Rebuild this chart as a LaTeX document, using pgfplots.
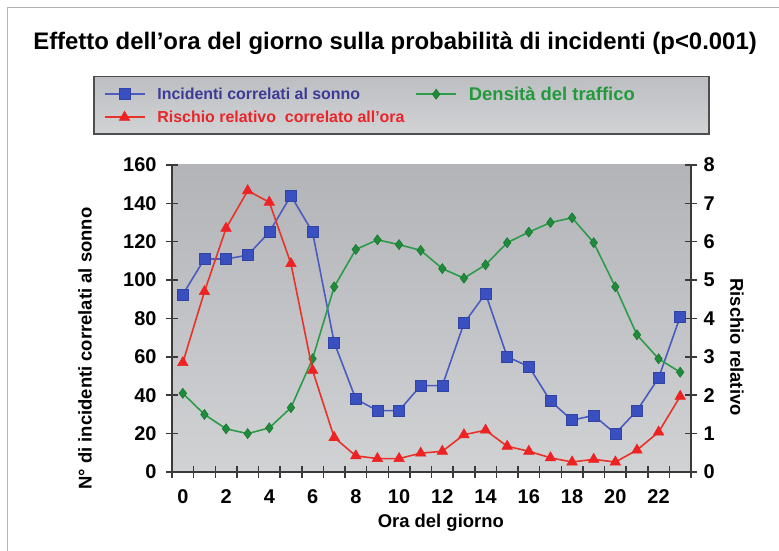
\documentclass[border=0pt]{standalone}
\usepackage{pgfplots}
\pgfplotsset{compat=1.18}
\usepackage{fontspec}
\setmainfont{Liberation Sans}
\definecolor{axisgray}{HTML}{3A3A3A}
\definecolor{bgtop}{HTML}{B2B4B8}
\definecolor{bgbot}{HTML}{D0D2D4}
\definecolor{cblueline}{HTML}{4A5CC0}
\definecolor{cbluemark}{HTML}{3A50C0}
\definecolor{cbluetext}{HTML}{3C3C96}
\definecolor{credline}{HTML}{E8332A}
\definecolor{credmark}{HTML}{EE2222}
\definecolor{credtext}{HTML}{E8262A}
\definecolor{cgreenline}{HTML}{2E9B4A}
\definecolor{cgreenmark}{HTML}{1E8C3A}
\definecolor{cgreentext}{HTML}{229A3C}
\definecolor{legtop}{HTML}{BCBEC2}
\definecolor{legbot}{HTML}{D2D3D5}

\pgfplotstableread{
h blue green
0 92.5 41
1 111 30
2 111 22.5
3 113 20
4 125 23
5 144 33.5
6 125 59
7 67.5 96.5
8 38 116
9 32 121
10 32 118.5
11 45 115.5
12 45 106
13 77.5 101
14 93 108
15 60 119.5
16 55 125
17 37 130
18 27 132.5
19 29.5 119.5
20 20 96.5
21 32 71.5
22 49 59
23 81 52
}\lefttable

\pgfplotstableread{
h red
0 2.85
1 4.70
2 6.35
3 7.33
4 7.03
5 5.43
6 2.65
7 0.90
8 0.42
9 0.35
10 0.35
11 0.49
12 0.54
13 0.97
14 1.09
15 0.67
16 0.54
17 0.37
18 0.26
19 0.33
20 0.26
21 0.57
22 1.04
23 1.97
}\righttable

\pgfplotsset{
  common/.style={
    at={(172bp,79bp)}, anchor=south west,
    scale only axis, width=519bp, height=307bp,
    xmin=-0.5, xmax=23.5,
    axis line style={-, line width=2bp, color=axisgray},
    tick align=center,
    major tick length=12bp, minor tick length=12bp,
    tick style={line width=1.5bp, color=axisgray},
    /pgf/number format/assume math mode=true,
    tick label style={font=\fontsize{20}{20}\selectfont\bfseries, color=black},
    label style={font=\fontsize{18.5}{20}\selectfont\bfseries},
  },
  blueplot/.style={color=cblueline, line width=1.6bp, mark=square*, mark size=5.5bp,
    mark options={fill=cbluemark, draw=cbluemark!85!black, line width=0.6bp}},
  greenplot/.style={color=cgreenline, line width=1.6bp, mark=diamond*, mark size=5bp,
    mark options={fill=cgreenmark, draw=cgreenmark!85!black, line width=0.6bp}},
  redplot/.style={color=credline, line width=1.6bp, mark=triangle*, mark size=6bp,
    mark options={fill=credmark, draw=credmark, line width=0.6bp}},
}

\begin{document}
\begin{tikzpicture}[x=1bp,y=1bp]
\useasboundingbox (0,0) rectangle (779,551);
\draw[color=gray!60, line width=1.2bp] (7.5,0) -- (7.5,543.5) -- (779,543.5);
\begin{axis}[common,
  ymin=0, ymax=160,
  axis x line*=bottom, axis y line*=left,
  axis background/.style={shade, top color=bgtop, bottom color=bgbot},
  xtick={0,2,...,22},
  minor xtick={-0.5,0.5,...,23.5},
  every major x tick/.append style={draw=none},
  ytick={0,20,...,160},
  xticklabel style={yshift=-8bp},
  yticklabel style={xshift=-6bp},
  xlabel={Ora del giorno},
  ylabel={N° di incidenti correlati al sonno},
  xlabel style={at={(0.518,-0.166)}, anchor=center},
  ylabel style={at={(-0.1676,0.402)}, anchor=center},
  title={Effetto dell’ora del giorno sulla probabilità di incidenti (p<0.001)},
  title style={at={(0.4297,1.378)}, anchor=center, font=\fontsize{24}{26}\selectfont\bfseries},
  legend columns=2,
  legend cell align=left,
  legend image code/.code={\draw[mark repeat=2,mark phase=2,#1] plot coordinates {(0bp,0bp) (20bp,0bp) (40bp,0bp)};},
  legend style={at={(-0.1522,1.2899)}, anchor=north west,
    draw=axisgray!90, line width=1.5bp, top color=legtop, bottom color=legbot,
    inner xsep=10bp, inner ysep=8bp,
    font=\fontsize{16}{18}\selectfont\bfseries,
    /tikz/every odd column/.append style={column sep=10bp},
    /tikz/every even column/.append style={column sep=6bp},
    /tikz/row sep=5bp},
]
\addplot[blueplot] table[x=h, y=blue] {\lefttable};
\addplot[greenplot] table[x=h, y=green] {\lefttable};
\addlegendimage{redplot}
\legend{\makebox[250bp][l]{\textcolor{cbluetext}{Incidenti correlati al sonno}},
  \makebox[228bp][l]{\textcolor{cgreentext}{\fontsize{18.5}{20}\selectfont Densità del traffico}},
  \textcolor{credtext}{Rischio relativo\ \ correlato all’ora}}
\end{axis}
\begin{axis}[common,
  ymin=0, ymax=8,
  axis x line=none, axis y line*=right,
  ytick={0,1,...,8},
  yticklabel style={xshift=3bp},
  ylabel={Rischio relativo},
  ylabel style={at={(1.0886,0.407)}, anchor=center, rotate=180},
]
\addplot[redplot] table[x=h, y=red] {\righttable};
\end{axis}
\end{tikzpicture}
\end{document}
